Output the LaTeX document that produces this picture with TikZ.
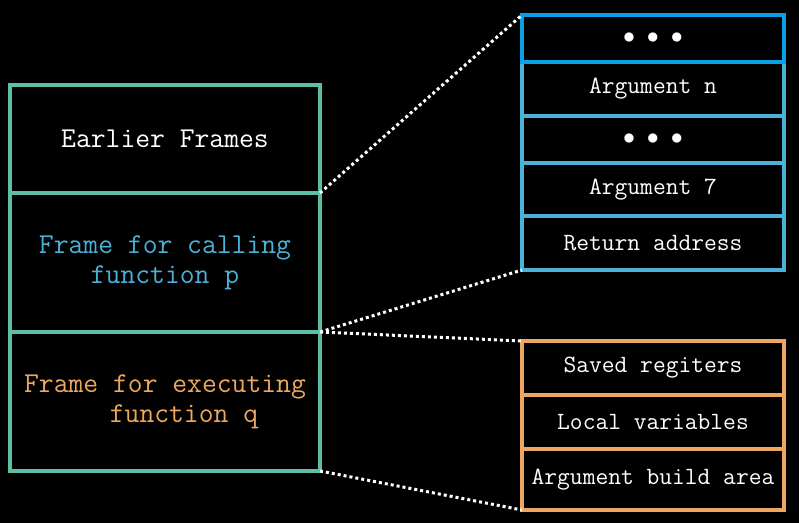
\documentclass[tikz,border=0pt]{standalone}
\usepackage{tikz}
\usetikzlibrary{positioning}

\definecolor{stackteal}{HTML}{5DBEA6}
\definecolor{argblue}{HTML}{4AB2D8}
\definecolor{topblue}{HTML}{0AA0E4}
\definecolor{saveorange}{HTML}{EDA75F}

\tikzset{
  frame/.style={draw=stackteal,line width=1.6pt,rectangle,inner sep=0pt,outer sep=0pt,
                minimum width=155pt,align=center,font=\fontsize{14.4}{15}\selectfont\ttfamily},
  cell/.style={draw,line width=1.6pt,rectangle,inner sep=0pt,outer sep=0pt,
               minimum width=131pt,text=white,font=\fontsize{12.4}{14}\selectfont\ttfamily},
  zoomline/.style={draw=white,line width=1.5pt,dash pattern=on 1.5pt off 1.5pt}
}

\begin{document}
\begin{tikzpicture}[x=0.5pt,y=-0.5pt]

  \fill[black] (0,0) rectangle (799,523);

  % stack of frames
  \node[frame,minimum height=54pt,text=white] (early) at (165,139) {Earlier Frames};
  \node[frame,minimum height=69.5pt,text=argblue] (callp) [below=0pt of early]
        {Frame for calling\\function p};
  \node[frame,minimum height=69.5pt,text=saveorange] (execq) [below=0pt of callp]
        {Frame for executing\\\hspace*{19pt}function q};

  % caller side
  \node[cell,draw=argblue,minimum height=27pt] (argn) at (653,89) {Argument n};
  \node[cell,draw=topblue,minimum height=23.5pt] (dotsA) [above=0pt of argn]
        {$\bullet\;\bullet\;\bullet$};
  \node[cell,draw=argblue,minimum height=23.5pt] (dotsB) [below=0pt of argn]
        {$\bullet\;\bullet\;\bullet$};
  \node[cell,draw=argblue,minimum height=26.5pt] (arg7) [below=0pt of dotsB] {Argument 7};
  \node[cell,draw=argblue,minimum height=27pt] (retad) [below=0pt of arg7] {Return address};

  % callee side
  \node[cell,draw=saveorange,minimum height=27pt] (saved) at (653,368) {Saved regiters};
  \node[cell,draw=saveorange,minimum height=27pt] (local) [below=0pt of saved] {Local variables};
  \node[cell,draw=saveorange,minimum height=30.5pt] (build) [below=0pt of local]
        {Argument build area};

  \path[zoomline] (early.south east) -- (dotsA.north west);
  \path[zoomline] (callp.south east) -- (retad.south west);
  \path[zoomline] (callp.south east) -- (saved.north west);
  \path[zoomline] (execq.south east) -- (build.south west);

\end{tikzpicture}
\end{document}
